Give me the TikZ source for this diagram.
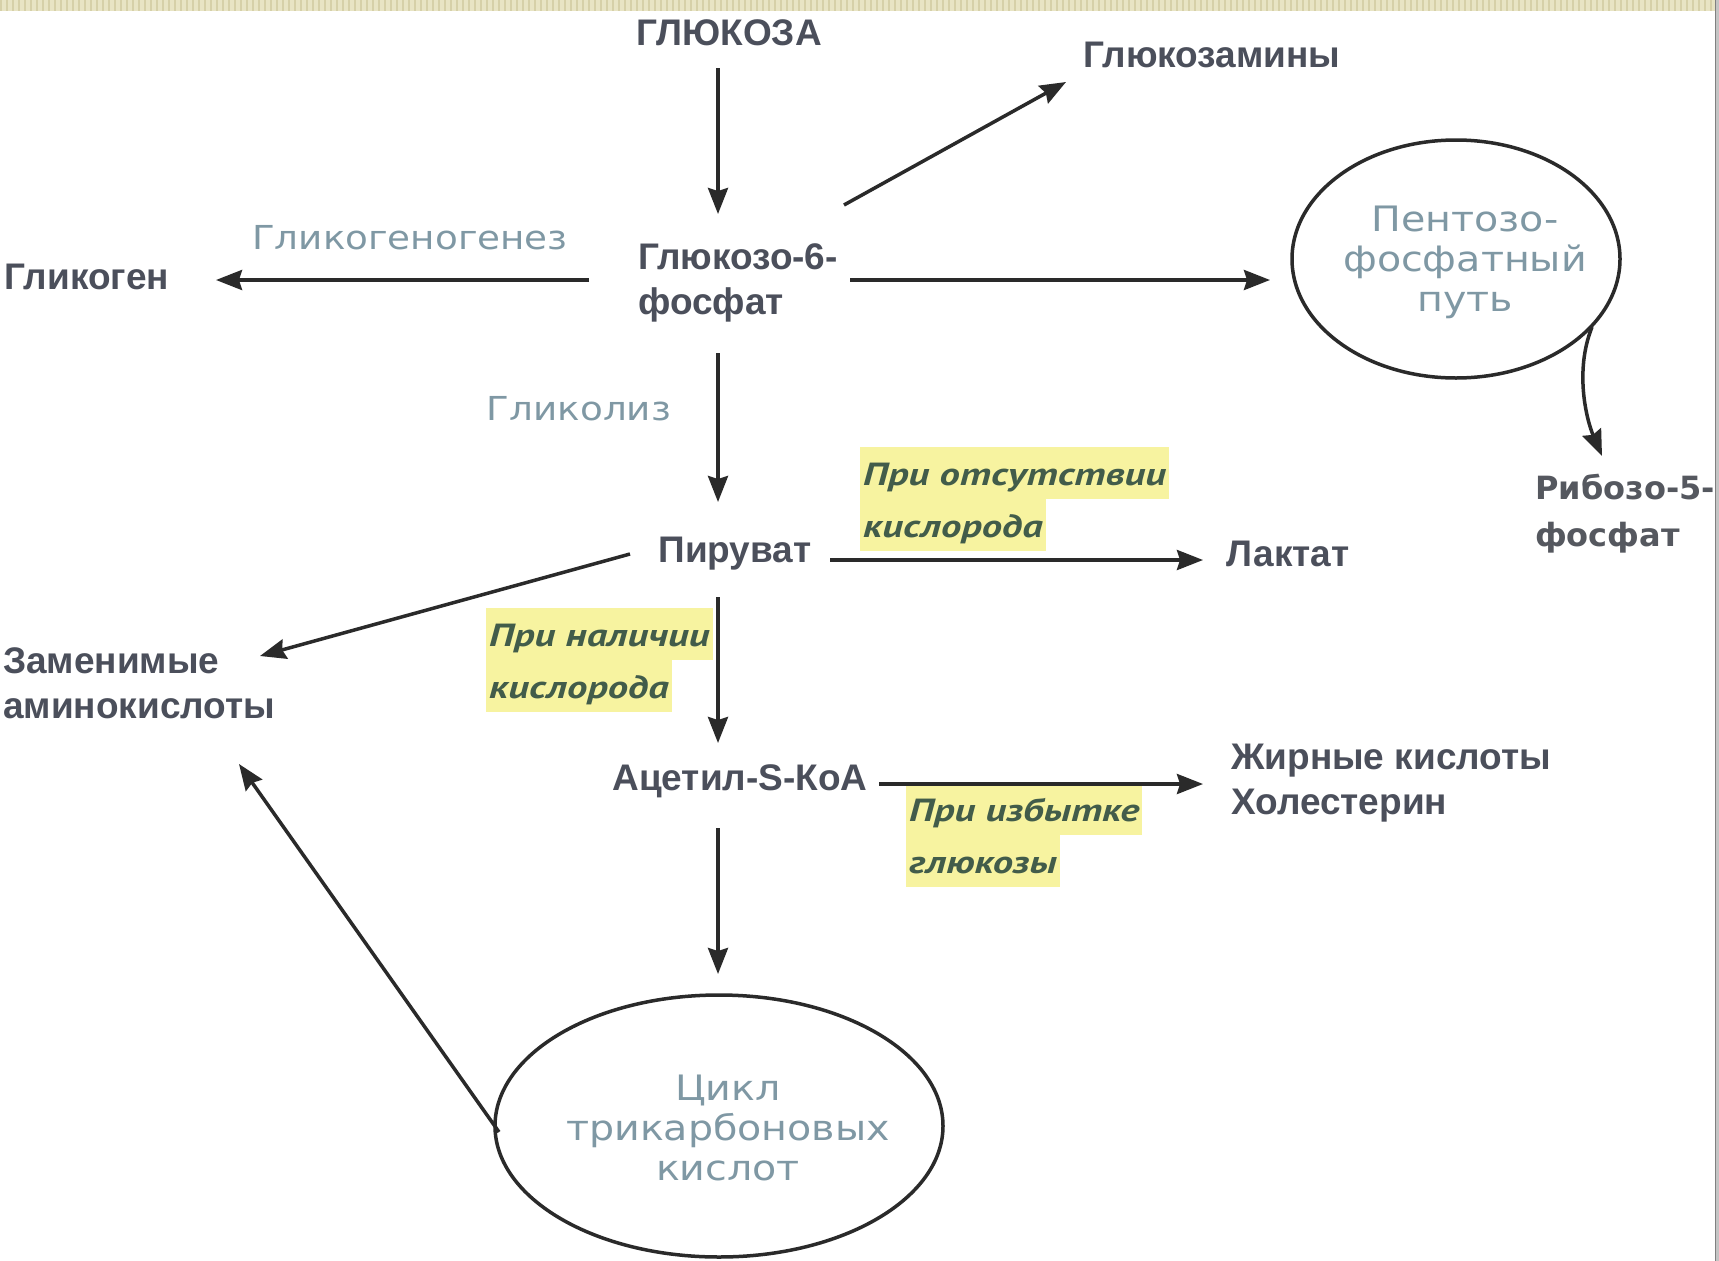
\documentclass[tikz,border=0pt]{standalone}
\usepackage{fontspec}
\setmainfont{Liberation Sans}
\newfontfamily\lightf[FakeStretch=1.13]{DejaVu Sans}
\newfontfamily\ribf{DejaVu Sans}
\newfontfamily\itf[FakeStretch=1.27]{PT Sans}
\usetikzlibrary{arrows.meta,shapes.geometric}
\definecolor{darktxt}{HTML}{4B4F5B}
\definecolor{ribtxt}{HTML}{55585F}
\definecolor{lighttxt}{HTML}{7F98A4}
\definecolor{ittxt}{HTML}{425C4A}
\definecolor{hlc}{HTML}{F7F3A0}
\definecolor{arrowc}{HTML}{2A2A2A}
\definecolor{bandc}{HTML}{E8E4C4}
\definecolor{bandstripe}{HTML}{D6D0A8}
\definecolor{edgec}{HTML}{C4C4C4}
\newcommand\hlline[1]{{\setlength{\fboxsep}{0pt}\colorbox{hlc}{\kern3pt\rule[-14pt]{0pt}{52pt}#1\kern3pt}}}
\tikzset{
  dark/.style={font=\fontsize{37}{45}\selectfont\bfseries, text=darktxt, inner sep=0pt, align=left},
  lightlbl/.style={font=\lightf\fontsize{33}{40}\selectfont, text=lighttxt, inner sep=0pt, align=center},
  ovaltxt/.style={font=\lightf\fontsize{35}{40}\selectfont, text=lighttxt, inner sep=0pt, align=center},
  ribstyle/.style={font=\ribf\bfseries\fontsize{32}{47}\selectfont, text=ribtxt, inner sep=0pt, align=left},
  itlbl/.style={font=\itf\bfseries\itshape\fontsize{32}{52}\selectfont, text=ittxt, inner sep=0pt, align=left},
  arr/.style={draw=arrowc, line width=3.5pt, -{Stealth[length=26pt,width=20pt,inset=3pt]}},
  oval/.style={ellipse, draw=arrowc, line width=3.5pt, inner sep=0pt},
}
\begin{document}
\begin{tikzpicture}[x=1pt,y=-1pt]
\fill[white] (0,0) rectangle (1719,1261);
\useasboundingbox (0,0) rectangle (1719,1261);
% top band
\fill[bandc] (0,0) rectangle (1719,11);
\foreach \i in {0,6,...,1716} \fill[bandstripe] (\i,0) rectangle (\i+2,11);

% nodes
\node[dark] (glc) at (729,33) {ГЛЮКОЗА};
\node[dark] (g6p) at (738,283) {Глюкозо-6-\\фосфат};
\node[dark] (glcam) at (1212,55) {Глюкозамины};
\node[dark] (glyc) at (87,277) {Гликоген};
\node[lightlbl] (glgen) at (410,238) {Гликогеногенез};
\node[oval, minimum width=328pt, minimum height=238pt] (ppp) at (1456,259) {};
\node[ovaltxt] (ppptxt) at (1465,262) {Пентозо-\\фосфатный\\путь};
\node[ribstyle, anchor=west] (rib) at (1535,514) {Рибозо-5-\\фосфат};
\node[lightlbl] (glys) at (579,409) {Гликолиз};
\node[dark] (pyr) at (735,554) {Пируват};
\node[dark] (lac) at (1288,554) {Лактат};
\node[itlbl, anchor=west] (anaer) at (860,499) {\hlline{При отсутствии}\\\hlline{кислорода}};
\node[dark, anchor=west] (amino) at (3,683) {Заменимые\\аминокислоты};
\node[itlbl, anchor=west] (aer) at (486,660) {\hlline{При наличии}\\\hlline{кислорода}};
\node[dark] (acoa) at (740,781) {Ацетил-S-КоА};
\node[dark, anchor=west] (fat) at (1231,783) {Жирные кислоты\\Холестерин};
\node[itlbl, anchor=west] (exc) at (906,835) {\hlline{При избытке}\\\hlline{глюкозы}};
\node[oval, minimum width=448pt, minimum height=262pt] (tca) at (719,1126) {};
\node[ovaltxt] (tcatxt) at (728,1128) {Цикл\\трикарбоновых\\кислот};

% connectors
\draw[arr] ([shift={(-11,35)}]glc.center) -- ([shift={(-20,-69)}]g6p.center);
\draw[arr] ([shift={(106,-78)}]g6p.center) -- ([shift={(-146,27)}]glcam.center);
\draw[arr] ([shift={(-149,-3)}]g6p.center) -- ([shift={(129,3)}]glyc.center);
\draw[arr] ([shift={(112,-3)}]g6p.center) -- ([shift={(-186,21)}]ppp.center);
\draw[arr] ([shift={(136,68)}]ppp.center) .. controls +(-18,45) and +(-15,-35) .. ([shift={(67,-58)}]rib.west);
\draw[arr] ([shift={(-20,70)}]g6p.center) -- ([shift={(-17,-52)}]pyr.center);
\draw[arr] ([shift={(95,6)}]pyr.center) -- ([shift={(-85,6)}]lac.center);
\draw[arr] ([shift={(-105,0)}]pyr.center) -- ([shift={(257,-27)}]amino.west);
\draw[arr] ([shift={(-17,43)}]pyr.center) -- ([shift={(-22,-38)}]acoa.center);
\draw[arr] ([shift={(139,3)}]acoa.center) -- ([shift={(-28,1)}]fat.west);
\draw[arr] ([shift={(-22,47)}]acoa.center) -- ([shift={(-1,-152)}]tca.center);
\draw[arr] ([shift={(-220,6)}]tca.center) -- ([shift={(236,81)}]amino.west);

% right edge strip
\fill[edgec] (1715,0) rectangle (1719,1261);
\draw[gray, line width=1pt] (1715.5,0) -- (1715.5,1261);
\end{tikzpicture}
\end{document}
